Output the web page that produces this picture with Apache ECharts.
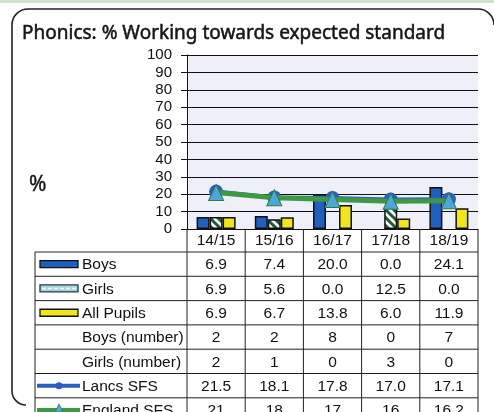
<!DOCTYPE html>
<html>
<head>
<meta charset="utf-8">
<script src="https://cdn.jsdelivr.net/npm/echarts@6/dist/echarts.min.js"></script>
<style>
    html, body {margin:0;padding:0;background:#fff}
    #chart {width:494px;height:412px}
</style>
</head>
<body>
<div id="chart"></div>
<script>
    var categories = ['14/15', '15/16', '16/17', '17/18', '18/19'];
    var boys = [6.9, 7.4, 20.0, 0.0, 24.1];
    var girls = [6.9, 5.6, 0.0, 12.5, 0.0];
    var allPupils = [6.9, 6.7, 13.8, 6.0, 11.9];
    var boysNumber = [2, 2, 8, 0, 7];
    var girlsNumber = [2, 1, 0, 3, 0];
    var lancsSfs = [21.5, 18.1, 17.8, 17.0, 17.1];
    var englandSfs = [21, 18, 17, 16, 16.2];
    var yTicks = [0, 10, 20, 30, 40, 50, 60, 70, 80, 90, 100];

    var gridLeft = 187, gridTop = 55, gridW = 291, gridH = 174;

    // hatch for girls bars
    var hatch = document.createElement('canvas');
    hatch.width = 8; hatch.height = 8;
    var hc = hatch.getContext('2d');
    hc.fillStyle = '#ffffff';
    hc.fillRect(0, 0, 8, 8);
    hc.strokeStyle = '#1d5a36';
    hc.lineWidth = 3;
    hc.beginPath();
    hc.moveTo(-2, -2); hc.lineTo(10, 10);
    hc.moveTo(-2, 6); hc.lineTo(2, 10);
    hc.moveTo(6, -2); hc.lineTo(10, 2);
    hc.stroke();

    // zero bars are not drawn in the original
    function noZero(arr) { return arr.map(function (v) { return v === 0 ? null : v; }); }

    var chart = echarts.init(document.getElementById('chart'));

    var option = {
        animation: false,
        grid: {left: gridLeft, top: gridTop, width: gridW, height: gridH, show: true,
            backgroundColor: '#efeff9', borderWidth: 0},
        xAxis: {
            type: 'category',
            data: categories,
            axisLine: {lineStyle: {color: '#111', width: 1}},
            axisTick: {show: false},
            axisLabel: {show: false}
        },
        yAxis: {
            type: 'value',
            min: 0, max: 100, interval: 10,
            axisLine: {show: true, lineStyle: {color: '#111', width: 1}},
            axisTick: {show: true, length: 6, lineStyle: {color: '#111'}},
            axisLabel: {margin: 15, fontFamily: 'Liberation Sans', fontSize: 15, color: '#111',
                formatter: function (v) { return yTicks.indexOf(v) >= 0 ? String(v) : ''; }},
            splitLine: {lineStyle: {color: '#111', width: 1}}
        },
        series: [
            {name: 'Boys', type: 'bar', data: noZero(boys), barWidth: 13, barGap: '0%',
                itemStyle: {color: '#1f5fc0', borderColor: '#111', borderWidth: 1.5}},
            {name: 'Girls', type: 'bar', data: noZero(girls), barWidth: 13, barGap: '0%',
                itemStyle: {color: {image: hatch, repeat: 'repeat'}, borderColor: '#111', borderWidth: 1.5}},
            {name: 'All Pupils', type: 'bar', data: noZero(allPupils), barWidth: 13, barGap: '0%',
                itemStyle: {color: '#f3e51c', borderColor: '#111', borderWidth: 1.5}},
            {name: 'Lancs SFS', type: 'line', data: lancsSfs, z: 3,
                symbol: 'circle', symbolSize: 14,
                lineStyle: {color: '#2b5fc4', width: 4},
                itemStyle: {color: '#2b5fc4'}},
            {name: 'England SFS', type: 'line', data: englandSfs, z: 4,
                symbol: 'triangle', symbolSize: [15, 16],
                lineStyle: {color: '#3e9a42', width: 5},
                itemStyle: {color: '#4ba6dc', borderColor: '#2f7d3c', borderWidth: 1}}
        ]
    };
    chart.setOption(option);

    // table below the chart
    var colW = gridW / categories.length;
    var headTop = gridTop + gridH, headBottom = 252, rowH = 24.3;
    var tableLeft = 35, tableRight = gridLeft + gridW;
    var rows = [
        {label: 'Boys', values: boys, fmt: 1, key: 'boys'},
        {label: 'Girls', values: girls, fmt: 1, key: 'girls'},
        {label: 'All Pupils', values: allPupils, fmt: 1, key: 'all'},
        {label: 'Boys (number)', values: boysNumber, fmt: 0},
        {label: 'Girls (number)', values: girlsNumber, fmt: 0},
        {label: 'Lancs SFS', values: lancsSfs, fmt: 1, key: 'lancs'},
        {label: 'England SFS', values: englandSfs, fmt: -1, key: 'england'}
    ];
    var txt = {fontFamily: 'Liberation Sans', fontSize: 15.5, fill: '#111'};
    var lineSt = {stroke: '#222', lineWidth: 1};
    var frame = {fill: null, stroke: '#222', lineWidth: 1.6};
    var g = [];

    // outer rounded frame
    g.push({type: 'line', shape: {x1: 28, y1: 9, x2: 478, y2: 9}, style: frame, z: 1});
    g.push({type: 'line', shape: {x1: 12, y1: 25, x2: 12, y2: 391}, style: frame, z: 1});
    g.push({type: 'arc', shape: {cx: 28, cy: 25, r: 16, startAngle: Math.PI, endAngle: Math.PI * 1.5}, style: frame, z: 1});
    g.push({type: 'arc', shape: {cx: 478, cy: 25, r: 16, startAngle: Math.PI * 1.5, endAngle: Math.PI * 2}, style: frame, z: 1});
    g.push({type: 'arc', shape: {cx: 26, cy: 391, r: 14, startAngle: Math.PI * 0.5, endAngle: Math.PI}, style: frame, z: 1});
    g.push({type: 'rect', shape: {x: 0, y: 0, width: 494, height: 3}, style: {fill: '#cfe3c8'}, z: 1});
    g.push({type: 'text', x: 22, y: 34, style: {text: 'Phonics: % Working towards expected standard',
        fontFamily: 'Noto Sans', fontSize: 19, fill: '#151515', verticalAlign: 'middle',
        stroke: '#151515', lineWidth: 0.5}, z: 10});
    g.push({type: 'text', x: 29, y: 185, style: {text: '%', fontFamily: 'Noto Sans', fontSize: 21,
        fill: '#151515', verticalAlign: 'middle', stroke: '#151515', lineWidth: 0.4}, z: 10});

    // header row
    for (var i = 0; i <= categories.length; i++) {
        var x = gridLeft + i * colW;
        g.push({type: 'line', shape: {x1: x, y1: headTop, x2: x, y2: 412}, style: lineSt, z: 10});
    }
    categories.forEach(function (c) {
        var cx = chart.convertToPixel({xAxisIndex: 0}, c);
        g.push({type: 'text', x: cx, y: (headTop + headBottom) / 2, style: Object.assign({text: c,
            align: 'center', verticalAlign: 'middle'}, txt), z: 10});
    });
    g.push({type: 'line', shape: {x1: tableLeft, y1: headBottom, x2: tableLeft, y2: 412}, style: lineSt, z: 10});

    rows.forEach(function (r, ri) {
        var top = headBottom + ri * rowH;
        var cy = top + rowH / 2;
        g.push({type: 'line', shape: {x1: tableLeft, y1: top, x2: tableRight, y2: top}, style: lineSt, z: 10});
        g.push({type: 'text', x: 82, y: cy + 1, style: Object.assign({text: r.label, verticalAlign: 'middle'}, txt), z: 10});
        r.values.forEach(function (v, i) {
            var s = r.fmt > 0 ? v.toFixed(1) : String(v);
            var cx = chart.convertToPixel({xAxisIndex: 0}, categories[i]);
            g.push({type: 'text', x: cx, y: cy + 1, style: Object.assign({text: s, align: 'center',
                verticalAlign: 'middle'}, txt), z: 10});
        });
        // legend keys
        if (r.key === 'boys' || r.key === 'all') {
            g.push({type: 'rect', shape: {x: 40, y: cy - 3.5, width: 38, height: 7},
                style: {fill: r.key === 'boys' ? '#1f5fc0' : '#f3e51c', stroke: '#111', lineWidth: 1.3}, z: 10});
        } else if (r.key === 'girls') {
            g.push({type: 'rect', shape: {x: 40, y: cy - 3.5, width: 38, height: 7},
                style: {fill: '#a6d6e4', stroke: '#2a3a3a', lineWidth: 1.3}, z: 10});
            g.push({type: 'line', shape: {x1: 42, y1: cy, x2: 76, y2: cy},
                style: {stroke: '#f4fbfd', lineWidth: 1.5, lineDash: [4, 2]}, z: 11});
        } else if (r.key === 'lancs') {
            g.push({type: 'line', shape: {x1: 37, y1: cy, x2: 80, y2: cy}, style: {stroke: '#2b5fc4', lineWidth: 4}, z: 10});
            g.push({type: 'circle', shape: {cx: 59, cy: cy, r: 3.5}, style: {fill: '#2b5fc4'}, z: 11});
        } else if (r.key === 'england') {
            g.push({type: 'line', shape: {x1: 37, y1: cy, x2: 80, y2: cy}, style: {stroke: '#3e9a42', lineWidth: 4}, z: 10});
            g.push({type: 'polygon', shape: {points: [[59, cy - 6], [55, cy + 2], [63, cy + 2]]},
                style: {fill: '#4ba6dc', stroke: '#2f7d3c', lineWidth: 0.8}, z: 11});
        }
    });

    chart.setOption({graphic: {elements: g}});
</script>
</body>
</html>
